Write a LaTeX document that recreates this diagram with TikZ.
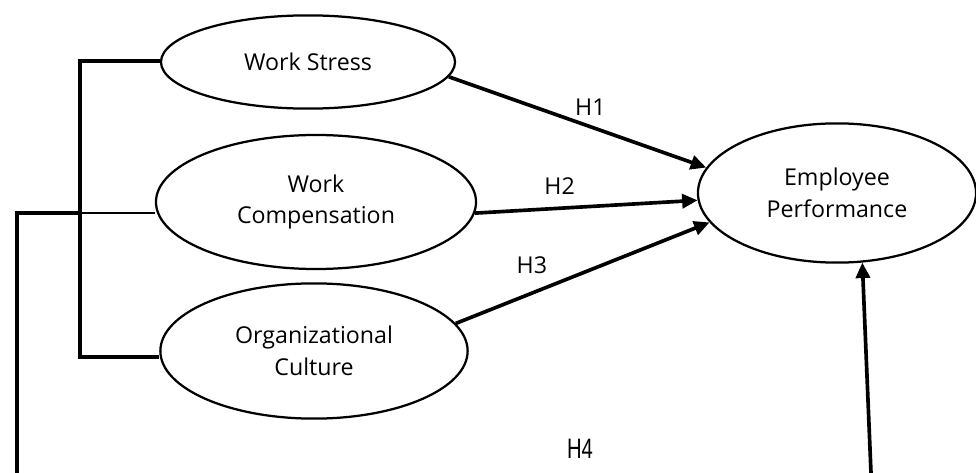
\documentclass[tikz,border=0pt]{standalone}
\usepackage{fontspec}
\setmainfont{Open Sans}
\newfontfamily\narrowfont[FakeStretch=0.72]{Liberation Sans}
\usetikzlibrary{arrows.meta,shapes.geometric}

\begin{document}
\begin{tikzpicture}[x=0.025cm, y=-0.025cm, >={Triangle[length=11pt,width=10pt]},
  every node/.style={font=\fontsize{16.5}{22.5}\selectfont},
  var/.style={draw, ellipse, line width=1.6pt, align=center, inner sep=0pt},
  hpath/.style={->, line width=2.6pt}]
  \useasboundingbox (0,0) rectangle (976,473);
  % latent variables
  \node[var, minimum width=7.35cm, minimum height=2.33cm] (ws) at (308,62) {Work Stress};
  \node[var, minimum width=8cm, minimum height=3.35cm] (wc) at (316,202) {Work\\Compensation};
  \node[var, minimum width=7.68cm, minimum height=3.38cm] (oc) at (314,351) {Organizational\\Culture};
  \node[var, minimum width=6.95cm, minimum height=3.48cm] (ep) at (837,193) {Employee\\Performance};
  % direct paths
  \draw[hpath] (ws.-6) -- node[above, pos=0.55, yshift=3pt] {H1} (ep.169);
  \draw[hpath] (wc.-4) -- node[above, pos=0.38, yshift=5pt] {H2} (ep.183);
  \draw[hpath] (oc.11) -- node[above, pos=0.3, yshift=9pt] {H3} (ep.193);
  % joint path
  \coordinate (top) at (80,61);
  \coordinate (mid) at (80,213);
  \coordinate (bot) at (80,357);
  \coordinate (lft) at (17,213);
  \coordinate (lend) at (17,473);
  \coordinate (rend) at (871,473);
  \draw[line width=2.6pt] (ws.west |- top) -- (top) -- (bot) -- (oc.west |- bot);
  \draw[line width=2pt] (wc.west |- mid) -- (mid);
  \draw[line width=2.6pt] (mid) -- (lft) -- (lend);
  \draw[hpath] (rend) -- (ep.-70);
  \node[font=\narrowfont\fontsize{20}{22}\selectfont] (h4) at (580,449) {H4};
\end{tikzpicture}
\end{document}
